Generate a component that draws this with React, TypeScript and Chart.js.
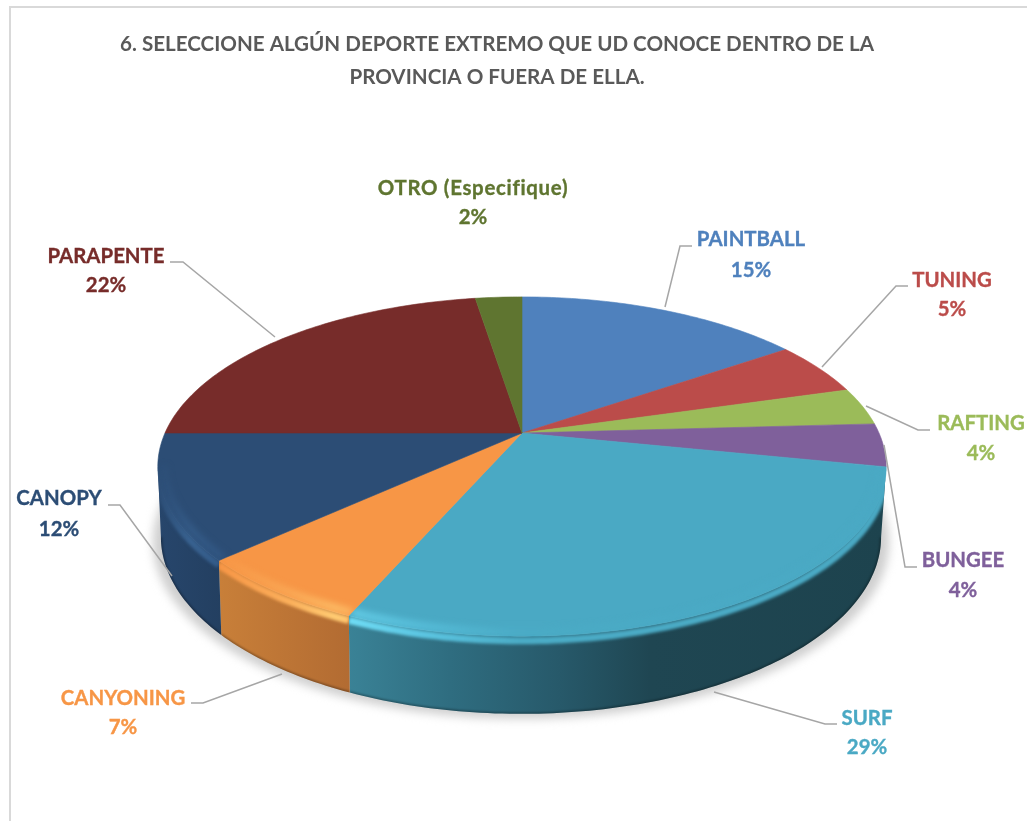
import React, { useEffect, useRef } from "react";
import { Chart, registerables } from "chart.js";

Chart.register(...registerables);

const categories = ["PAINTBALL", "TUNING", "RAFTING", "BUNGEE", "SURF", "CANYONING", "CANOPY", "PARAPENTE", "OTRO (Especifique)"];
// slice sizes (the printed labels are rounded)
const sliceValues = [15.35, 5.15, 3.6, 4.1, 28.3, 6.65, 11.85, 22.5, 2.5];
const percentLabels = ["15%", "5%", "4%", "4%", "29%", "7%", "12%", "22%", "2%"];
const sliceColors = ["#4f81bd", "#bb4c4a", "#9bbb59", "#7f609b", "#4aa9c4", "#f79646", "#2c4d75", "#772c2a", "#5f7530"];
const titleLines = ["6. SELECCIONE ALGÚN DEPORTE EXTREMO QUE UD CONOCE DENTRO DE LA", "PROVINCIA O FUERA DE ELLA."];

// Style & layout (not data)
const FONT = "Lato";
const LABEL_FONT_SIZE = 20.4;
const labelPos: [number, number, number][] = [
  [751, 239, 270], [952, 280, 309], [981, 423, 453], [963, 560, 590], [867, 718, 747],
  [123, 698, 727], [59, 498, 529], [106, 256, 285], [473, 188, 217],
];
const labelSpacing = ["0px", "0px", "0px", "0px", "0px", "0px", "0px", "0px", "0.7px"];
const leaders: ([number, number][] | null)[] = [
  [[665, 307], [680, 246], [692, 246]],
  [[822, 367], [896, 286], [908, 286]],
  [[866, 406], [918, 430], [930, 430]],
  [[884, 445], [905, 567], [917, 567]],
  [[714, 692], [825, 724], [837, 724]],
  [[282, 674], [203, 703], [191, 703]],
  [[172, 576], [120, 505], [108, 505]],
  [[275, 337], [183, 262], [170, 262]],
  null,
];
const sideStops: Record<number, [number, string][]> = {
  4: [[349, "#3a8296"], [450, "#2f6d80"], [560, "#27596a"], [650, "#1f4652"], [886, "#1d434e"]],
  5: [[220, "#c87f39"], [352, "#b26b32"]],
  6: [[157, "#27466c"], [225, "#233f60"]],
};
const rimStops: Record<number, [number, string][]> = {
  4: [[349, "#6fdcf5"], [420, "#5cc6e2"], [520, "#4bacc6"], [886, "#4aa9c4"]],
  5: [[220, "#f79646"], [290, "#fbb05c"], [335, "#ffcb72"], [352, "#ffc06a"]],
  6: [[157, "#2c4d75"], [190, "#38618f"], [222, "#335a88"]],
};

const P = 0.1976;
const TOP = { cx: 522, cy: 433, a: 357, b: 163 };
const BOT = { cx: 521, cy: 502, a: 353, b: 170 };
const RIM_T = 0.06;
const lerp = (x: number, y: number, t: number) => x + (y - x) * t;
const project = (ang: number, t: number, r = 1): [number, number] => {
  const u = r * Math.cos(ang), v = r * Math.sin(ang), d = 1 - P * v;
  return [lerp(TOP.cx, BOT.cx, t) + (lerp(TOP.a, BOT.a, t) * u) / d, lerp(TOP.cy, BOT.cy, t) + (lerp(TOP.b, BOT.b, t) * v) / d];
};
const arcPts = (a1: number, a2: number, t: number, r = 1) => {
  const n = Math.max(2, Math.ceil(Math.abs(a2 - a1) * 60));
  const pts: [number, number][] = [];
  for (let i = 0; i <= n; i++) pts.push(project(a1 + ((a2 - a1) * i) / n, t, r));
  return pts;
};
const SIDE_MIN = Math.asin(P);
const SIDE_MAX = Math.PI - Math.asin(P);

const gradient = (ctx: CanvasRenderingContext2D, stops: [number, string][]) => {
  const x0 = stops[0][0], x1 = stops[stops.length - 1][0];
  const g = ctx.createLinearGradient(x0, 0, x1, 0);
  stops.forEach(([x, c]) => g.addColorStop((x - x0) / (x1 - x0), c));
  return g;
};
const trace = (ctx: CanvasRenderingContext2D, pts: [number, number][], close = true) => {
  pts.forEach(([x, y], i) => (i ? ctx.lineTo(x, y) : ctx.moveTo(x, y)));
  if (close) ctx.closePath();
};

const pie3d = {
  id: "pie3d",
  beforeDraw(chart: any) {
    const ctx: CanvasRenderingContext2D = chart.ctx;
    ctx.save();
    ctx.fillStyle = "#ffffff";
    ctx.fillRect(0, 0, chart.width, chart.height);
    ctx.strokeStyle = "#d9d9d9";
    ctx.lineWidth = 2;
    ctx.strokeRect(10, 7, chart.width + 20, chart.height + 20);
    ctx.restore();
  },
  beforeDatasetsDraw(chart: any) {
    const ctx: CanvasRenderingContext2D = chart.ctx;
    const arcs = chart.getDatasetMeta(0).data as any[];
    ctx.save();

    // ground shadow
    ctx.save();
    ctx.filter = "blur(5px)";
    ctx.fillStyle = "#cfcfcf";
    ctx.beginPath();
    trace(ctx, arcPts(0, Math.PI * 2, 1).map(([x, y]) => [521 + (x - 521) * 1.022, y + 5] as [number, number]));
    ctx.fill();
    ctx.restore();

    // side walls
    arcs.forEach((arc, i) => {
      const a1 = Math.max(arc.startAngle, SIDE_MIN), a2 = Math.min(arc.endAngle, SIDE_MAX);
      if (a2 <= a1 || !sideStops[i]) return;
      const top = arcPts(a1, a2, 0), bot = arcPts(a1, a2, 1).reverse();
      ctx.beginPath();
      trace(ctx, [...top, ...bot]);
      ctx.fillStyle = gradient(ctx, sideStops[i]);
      ctx.fill();
      ctx.save();
      ctx.clip();
      ctx.filter = "blur(1px)";
      ctx.strokeStyle = "rgba(0,0,0,0.35)";
      ctx.lineWidth = 2.5;
      ctx.beginPath();
      trace(ctx, bot, false);
      ctx.stroke();
      ctx.restore();
    });

    // top faces
    arcs.forEach((arc, i) => {
      const pts: [number, number][] = [[TOP.cx, TOP.cy], ...arcPts(arc.startAngle, arc.endAngle, 0)];
      ctx.beginPath();
      trace(ctx, pts);
      ctx.fillStyle = sliceColors[i];
      ctx.strokeStyle = sliceColors[i];
      ctx.lineWidth = 0.6;
      ctx.fill();
      ctx.stroke();
    });

    // soft bevel along the front rim
    arcs.forEach((arc, i) => {
      const a1 = Math.max(arc.startAngle, SIDE_MIN), a2 = Math.min(arc.endAngle, SIDE_MAX);
      if (a2 <= a1 || !rimStops[i]) return;
      const face: [number, number][] = [[TOP.cx, TOP.cy], ...arcPts(arc.startAngle, arc.endAngle, 0)];
      const wall = [...arcPts(a1, a2, 0), ...arcPts(a1, a2, 1).reverse()];
      ctx.save();
      ctx.beginPath();
      trace(ctx, face);
      trace(ctx, wall);
      ctx.clip();
      ctx.strokeStyle = gradient(ctx, rimStops[i]);
      ctx.filter = "blur(3px)";
      ctx.globalAlpha = 0.7;
      ctx.lineWidth = 8;
      ctx.beginPath();
      trace(ctx, arcPts(a1, a2, 0, 0.985), false);
      ctx.stroke();
      ctx.filter = "blur(1.8px)";
      ctx.globalAlpha = 1;
      ctx.lineWidth = 7;
      ctx.beginPath();
      trace(ctx, arcPts(a1, a2, RIM_T), false);
      ctx.stroke();
      ctx.restore();
    });

    // leader lines
    ctx.strokeStyle = "#a6a6a6";
    ctx.lineWidth = 1.5;
    leaders.forEach((l) => {
      if (!l) return;
      ctx.beginPath();
      trace(ctx, l, false);
      ctx.stroke();
    });

    // labels
    ctx.textAlign = "center";
    ctx.textBaseline = "middle";
    ctx.font = `bold ${LABEL_FONT_SIZE}px ${FONT}`;
    ctx.lineWidth = 0.35;
    categories.forEach((name, i) => {
      const [x, y1, y2] = labelPos[i];
      ctx.fillStyle = sliceColors[i];
      ctx.strokeStyle = sliceColors[i];
      (ctx as any).letterSpacing = labelSpacing[i];
      ctx.fillText(name, x, y1);
      ctx.strokeText(name, x, y1);
      (ctx as any).letterSpacing = "0px";
      ctx.fillText(percentLabels[i], x, y2);
      ctx.strokeText(percentLabels[i], x, y2);
    });
    ctx.restore();
    return false;
  },
};

export default function App() {
  const ref = useRef<HTMLCanvasElement>(null);
  useEffect(() => {
    const chart = new Chart(ref.current as HTMLCanvasElement, {
      type: "pie",
      data: { labels: categories, datasets: [{ data: sliceValues, backgroundColor: sliceColors }] },
      options: {
        animation: false,
        responsive: false,
        layout: { padding: { top: 28, right: 33 } },
        plugins: {
          legend: { display: false },
          tooltip: { enabled: false },
          title: {
            display: true,
            text: titleLines,
            color: "#595959",
            font: { family: FONT, size: 20.6, weight: "bold", lineHeight: 1.6 },
            padding: 0,
          },
        },
      },
      plugins: [pie3d],
    } as any);
    return () => chart.destroy();
  }, []);
  return (
    <div style={{ position: "absolute", left: 0, top: 0 }}>
      <canvas ref={ref} width={1027} height={821} style={{ display: "block" }} />
    </div>
  );
}
